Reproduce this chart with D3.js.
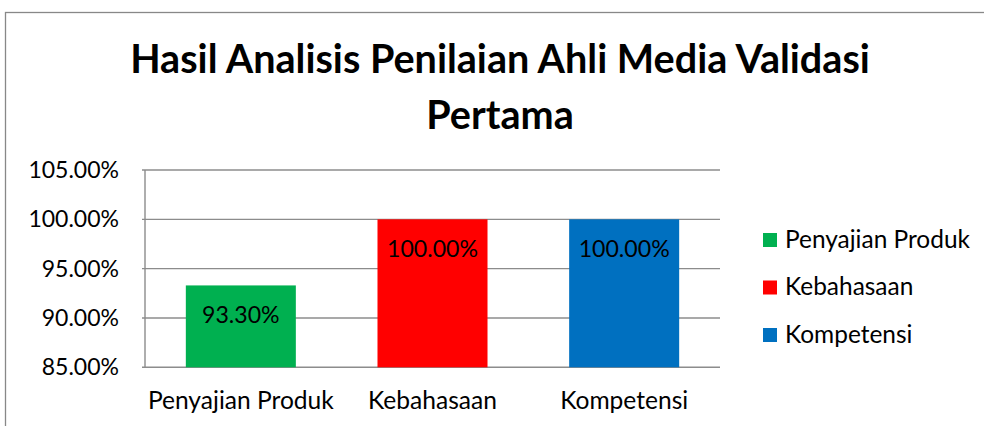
<!DOCTYPE html>
<html>
<head>
<meta charset="utf-8">
<script src="https://cdn.jsdelivr.net/npm/d3@7"></script>
<style>
  html, body { margin: 0; padding: 0; background: #fff; }
  svg { display: block; font-family: Lato, "Open Sans", sans-serif; }
</style>
</head>
<body>
<svg id="chart" width="984" height="426"></svg>
<script>
// ---- data ----
const titleLines = ["Hasil Analisis Penilaian Ahli Media Validasi", "Pertama"];
const categories = ["Penyajian Produk", "Kebahasaan", "Kompetensi"];
const values = [93.30, 100.00, 100.00];
const seriesNames = ["Penyajian Produk", "Kebahasaan", "Kompetensi"];
const yTicks = [85, 90, 95, 100, 105];
const yDomain = [85, 105];

// ---- styles ----
const colors = ["#00B050", "#FF0000", "#0070C0"];
const gridColor = "#8c8c8c";

const svg = d3.select("#chart");
const plot = { left: 145, right: 720, top: 170, bottom: 367.3 };

// fit font size of a selection so that a reference text reaches target width
function fitSize(sel, refNode, target, base) {
  sel.style("font-size", base + "px");
  const w = refNode.getComputedTextLength();
  const fs = base * target / w;
  sel.style("font-size", fs + "px");
  return fs;
}

// outer chart border
svg.append("rect")
  .attr("x", 5.5).attr("y", 12.5)
  .attr("width", 1100).attr("height", 600)
  .attr("fill", "none").attr("stroke", "#888").attr("stroke-width", 1.3);

// title
const title = svg.append("g").attr("class", "title");
const tl = title.selectAll("text").data(titleLines).join("text")
  .attr("x", 500)
  .attr("y", (d, i) => 73.3 + i * 56)
  .attr("text-anchor", "middle")
  .attr("font-weight", "bold")
  .attr("fill", "#000")
  .text(d => d);
fitSize(tl, tl.nodes()[0], 740, 36);

// scales
const x = d3.scaleBand().domain(categories)
  .range([plot.left, plot.right])
  .paddingInner(0.426).paddingOuter(0.213);
const y = d3.scaleLinear().domain(yDomain).range([plot.bottom, plot.top]);

// gridlines
svg.append("g").selectAll("line").data(yTicks).join("line")
  .attr("x1", plot.left - 3).attr("x2", plot.right)
  .attr("y1", d => y(d)).attr("y2", d => y(d))
  .attr("stroke", gridColor).attr("stroke-width", 1.4);
// vertical axis line
svg.append("line")
  .attr("x1", plot.left).attr("x2", plot.left)
  .attr("y1", y(yDomain[1])).attr("y2", y(yDomain[0]))
  .attr("stroke", gridColor).attr("stroke-width", 1.4);

// y axis labels
const yAxis = svg.append("g")
  .attr("transform", `translate(${plot.left},0)`)
  .call(d3.axisLeft(y).tickValues(yTicks).tickSize(0).tickPadding(26)
    .tickFormat(d => d.toFixed(2) + "%"));
yAxis.select(".domain").remove();
const yt = yAxis.selectAll("text").attr("fill", "#000").style("font-family", "Lato, sans-serif");
fitSize(yt, yt.nodes()[yt.nodes().length - 1], 90.7, 22);

// bars
svg.append("g").selectAll("rect").data(values).join("rect")
  .attr("x", (d, i) => x(categories[i]))
  .attr("width", x.bandwidth())
  .attr("y", d => y(d))
  .attr("height", d => y(yDomain[0]) - y(d))
  .attr("fill", (d, i) => colors[i]);

// value labels
const vl = svg.append("g").selectAll("text").data(values).join("text")
  .attr("x", (d, i) => x(categories[i]) + x.bandwidth() / 2)
  .attr("y", d => y(d) + 38)
  .attr("text-anchor", "middle")
  .attr("fill", "#000")
  .text(d => d.toFixed(2) + "%");
fitSize(vl, vl.nodes()[1], 91, 22);

// x axis labels
const xAxis = svg.append("g")
  .attr("transform", `translate(0,${plot.bottom})`)
  .call(d3.axisBottom(x).tickSize(0).tickPadding(0));
xAxis.select(".domain").remove();
const xt = xAxis.selectAll("text")
  .attr("dy", null).attr("y", 409 - plot.bottom)
  .attr("fill", "#000").style("font-family", "Lato, sans-serif");
fitSize(xt, xt.nodes()[0], 186, 22);

// legend
const legend = svg.append("g").selectAll("g").data(seriesNames).join("g")
  .attr("transform", (d, i) => `translate(763,${240 + i * 47.5})`);
legend.append("rect")
  .attr("x", 0).attr("y", -7).attr("width", 14).attr("height", 14)
  .attr("fill", (d, i) => colors[i]);
const lt = legend.append("text")
  .attr("x", 22).attr("y", 7.5)
  .attr("fill", "#000")
  .text(d => d);
fitSize(lt, lt.nodes()[0], 185, 22);
</script>
</body>
</html>
